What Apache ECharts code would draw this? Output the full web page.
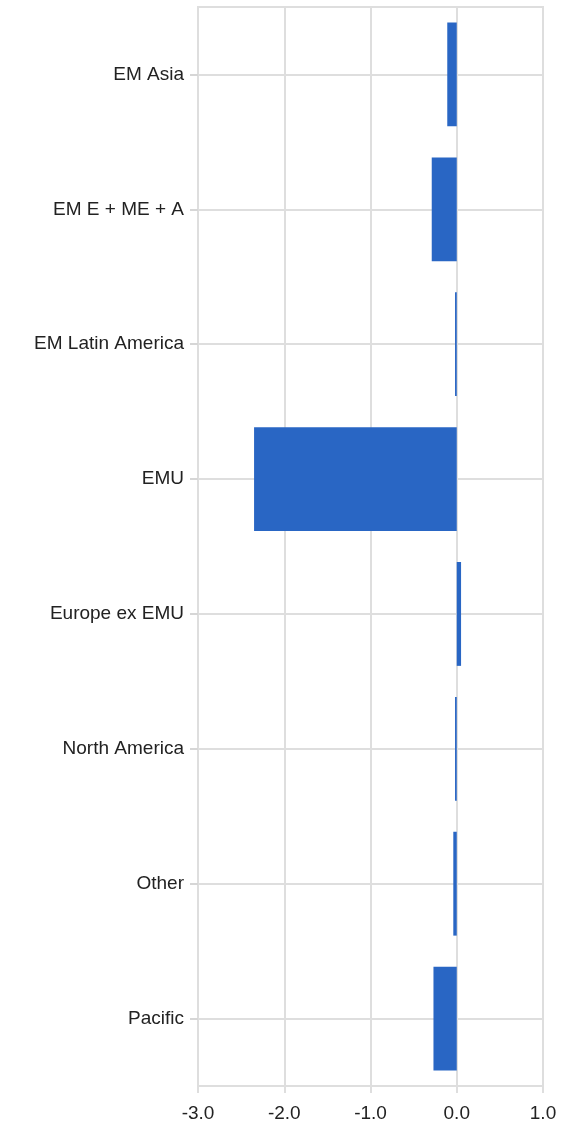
<!DOCTYPE html>
<html>
<head>
<meta charset="utf-8">
<script src="https://cdn.jsdelivr.net/npm/echarts@6/dist/echarts.min.js"></script>
<style>
  html, body { margin: 0; padding: 0; background: #fff; }
  #chart { width: 581px; height: 1133px; }
</style>
</head>
<body>
<div id="chart"></div>
<script>
var regions = ['EM Asia', 'EM E + ME + A', 'EM Latin America', 'EMU',
               'Europe ex EMU', 'North America', 'Other', 'Pacific'];
var values = [-0.11, -0.29, -0.02, -2.35, 0.05, -0.02, -0.04, -0.27];
var xTicks = { min: -3, max: 1, interval: 1 };

var gridColor = '#dedede';
var textColor = '#222222';
var fontFamily = '"Liberation Sans", "DejaVu Sans", sans-serif';

var myChart = echarts.init(document.getElementById('chart'));

myChart.setOption({
    animation: false,
    grid: {
        left: 198,
        right: 38,
        top: 7,
        bottom: 47,
        show: true,
        borderColor: gridColor,
        borderWidth: 2
    },
    xAxis: {
        type: 'value',
        min: xTicks.min,
        max: xTicks.max,
        interval: xTicks.interval,
        axisLine: { show: true, onZero: false, lineStyle: { color: gridColor, width: 2 } },
        axisTick: { show: true, length: 7, lineStyle: { color: gridColor, width: 2 } },
        splitLine: { show: true, lineStyle: { color: gridColor, width: 2 } },
        axisLabel: {
            margin: 18,
            color: textColor,
            fontSize: 19,
            fontFamily: fontFamily,
            formatter: function (v) { return v.toFixed(1); }
        }
    },
    yAxis: {
        type: 'category',
        data: regions,
        inverse: true,
        axisLine: { show: true, onZero: false, lineStyle: { color: gridColor, width: 2 } },
        axisTick: { show: true, alignWithLabel: true, interval: 0, length: 8, lineStyle: { color: '#d6d6d6', width: 2 } },
        splitLine: { show: true, alignWithLabel: true, lineStyle: { color: gridColor, width: 2 } },
        axisLabel: {
            margin: 14,
            color: textColor,
            fontSize: 19,
            fontFamily: fontFamily
        }
    },
    series: [{
        type: 'bar',
        data: values,
        barCategoryGap: '23%',
        itemStyle: { color: '#2966C4' }
    }]
});
</script>
</body>
</html>
